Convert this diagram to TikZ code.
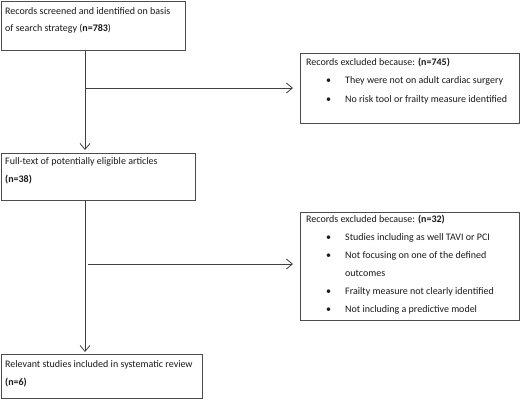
\documentclass[tikz,border=0pt]{standalone}
\usepackage{fontspec}
\setmainfont{Carlito}
\usetikzlibrary{arrows.meta}
\begin{document}
\begin{tikzpicture}[x=1pt,y=-1pt,
  box/.style={draw=black!70, line width=0.8pt, rectangle, inner sep=0pt, anchor=north west},
  txt/.style={inner sep=0pt, anchor=base west, font=\fontsize{10}{12}\selectfont, text=black!90},
  conn/.style={draw=black!75, line width=0.8pt},
  arr/.style={conn, -{Straight Barb[length=6pt,width=10pt]}}]
\useasboundingbox (0,0) rectangle (520,400);
% boxes
\node[box, minimum width=184pt, minimum height=49pt] (b1) at (1,1) {};
\node[box, minimum width=219pt, minimum height=70pt] (b2) at (300,53) {};
\node[box, minimum width=194pt, minimum height=47pt] (b3) at (1,153) {};
\node[box, minimum width=219pt, minimum height=108pt] (b4) at (300,212) {};
\node[box, minimum width=201pt, minimum height=44pt] (b5) at (1,354) {};
% box 1 text
\node[txt] (t1a) at (5,14) {Records screened and identified on basis};
\node[txt] (t1b) at (5,31) {of search strategy (\textbf{n=783})};
% box 2 text
\node[txt] (t2a) at (306,65) {Records excluded because: \textbf{(n=745)}};
\node[txt] (t2b1) at (326,83) {\textbullet};
\node[txt] (t2b) at (345,83) {They were not on adult cardiac surgery};
\node[txt] (t2c1) at (326,102) {\textbullet};
\node[txt] (t2c) at (345,102) {No risk tool or frailty measure identified};
% box 3 text
\node[txt] (t3a) at (5,164) {Full-text of potentially eligible articles};
\node[txt] (t3b) at (5,182) {\textbf{(n=38)}};
% box 4 text
\node[txt] (t4a) at (306,222) {Records excluded because: \textbf{(n=32)}};
\node[txt] (t4b1) at (326,240) {\textbullet};
\node[txt] (t4b) at (345,240) {Studies including as well TAVI or PCI};
\node[txt] (t4c1) at (326,258) {\textbullet};
\node[txt] (t4c) at (345,258) {Not focusing on one of the defined};
\node[txt] (t4d) at (345,276) {outcomes};
\node[txt] (t4e1) at (326,294) {\textbullet};
\node[txt] (t4e) at (345,294) {Frailty measure not clearly identified};
\node[txt] (t4f1) at (326,312) {\textbullet};
\node[txt] (t4f) at (345,312) {Not including a predictive model};
% box 5 text
\node[txt] (t5a) at (5,367) {Relevant studies included in systematic review};
\node[txt] (t5b) at (5,385) {\textbf{(n=6)}};
% connectors
\coordinate (j1) at (85,88);
\coordinate (j2) at (88,264);
\draw[arr, shorten >=3pt] (b1.south -| j1) -- (b3.north -| j1);
\draw[arr, shorten >=7pt] (j1) -- (b2.west |- j1);
\draw[arr, shorten >=2pt] (b3.south -| j1) -- (b5.north -| j1);
\draw[arr, shorten >=7pt] (j2) -- (b4.west |- j2);
\end{tikzpicture}
\end{document}
